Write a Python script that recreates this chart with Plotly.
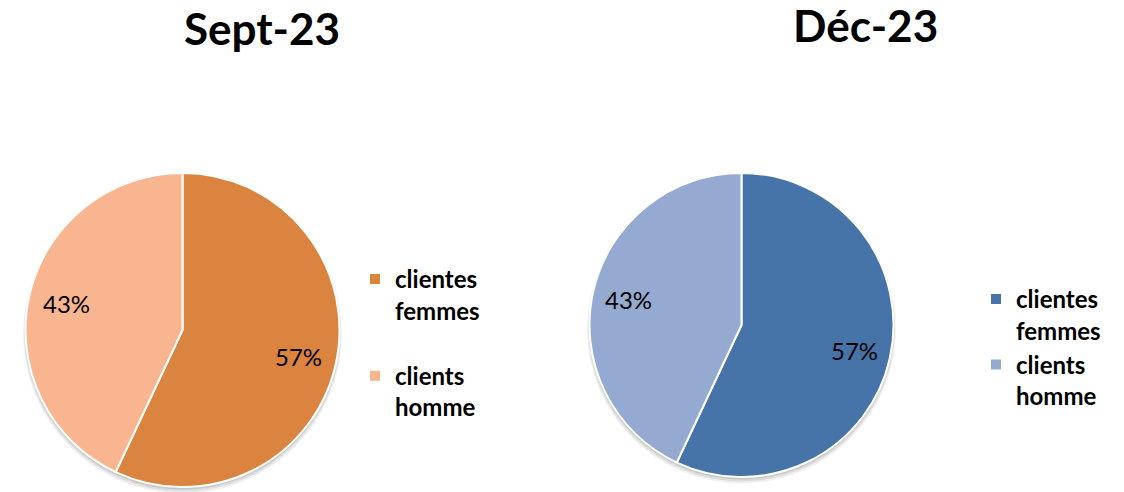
import math
import plotly.graph_objects as go

periods = ["Sept-23", "Déc-23"]
labels_sept = ["clientes<br>femmes<br> ", "clients<br>homme"]
labels_dec = ["clientes<br>femmes\u200b", "clients<br>homme\u200b"]
values_sept = [57, 43]
values_dec = [57, 43]
colors_sept = ["#DA843F", "#F8B590"]
colors_dec = ["#4673A8", "#95AAD0"]

FONT = "Lato, Carlito, Calibri, sans-serif"
W, H = 1124, 492

# pie geometry in pixels: (center x, center y, radius)
geo = [(182.5, 330.0, 157.0), (741.5, 325.0, 152.0)]


def domain(cx, cy, r):
    return dict(x=[(cx - r) / W, (cx + r) / W], y=[1 - (cy + r) / H, 1 - (cy - r) / H])


fig = go.Figure()
annotations = []
shapes = []
for (cx, cy, r), labels, values, colors, leg in [
    (geo[0], labels_sept, values_sept, colors_sept, "legend"),
    (geo[1], labels_dec, values_dec, colors_dec, "legend2"),
]:
    # soft shadow
    for off, grow, alpha in [(4, 2.5, 0.06), (3, 1.5, 0.08), (2, 0.5, 0.10)]:
        shapes.append(dict(type="circle", xref="paper", yref="paper",
                           x0=(cx - r - grow) / W, x1=(cx + r + grow) / W,
                           y0=1 - (cy + off + r + grow) / H, y1=1 - (cy + off - r - grow) / H,
                           fillcolor="rgba(0,0,0,%s)" % alpha, line=dict(width=0), layer="below"))
    fig.add_trace(go.Pie(
        labels=labels, values=values, sort=False, direction="clockwise", rotation=0,
        marker=dict(colors=colors, line=dict(color="white", width=2)),
        textinfo="none",
        domain=domain(cx, cy, r),
        legend=leg, hoverinfo="label+percent",
    ))
    total = sum(values)
    cum = 0.0
    for v in values:
        mid = (cum + v / 2) / total * 2 * math.pi
        cum += v
        lx = cx + 0.76 * r * math.sin(mid)
        ly = cy - 0.76 * r * math.cos(mid)
        annotations.append(dict(text="%d%%" % round(v / total * 100), x=lx / W, y=1 - ly / H,
                                xref="paper", yref="paper", showarrow=False,
                                font=dict(family=FONT, size=24, color="black"),
                                xanchor="center", yanchor="middle"))

title_pos = [(262, 28), (865, 25)]
for p, (tx, ty) in zip(periods, title_pos):
    annotations.append(dict(text="<b>%s</b>" % p, x=tx / W, y=1 - ty / H, xref="paper", yref="paper",
                            showarrow=False, font=dict(family=FONT, size=44, color="black"),
                            xanchor="center", yanchor="middle"))

legend_common = dict(
    font=dict(family=FONT, size=24, color="black", weight="bold"),
    bgcolor="rgba(0,0,0,0)", valign="top", xanchor="left", yanchor="top",
    orientation="v",
)
fig.update_layout(
    width=W, height=H,
    margin=dict(l=0, r=0, t=0, b=0),
    paper_bgcolor="white", plot_bgcolor="white",
    showlegend=True,
    legend=dict(x=355 / W, y=1 - 257 / H, **legend_common),
    legend2=dict(x=976 / W, y=1 - 277 / H, **legend_common),
    annotations=annotations,
    shapes=shapes,
)

fig.write_html("out.html", config={"displayModeBar": False},
               post_script="document.body.style.margin='0';document.body.style.overflow='hidden';")
